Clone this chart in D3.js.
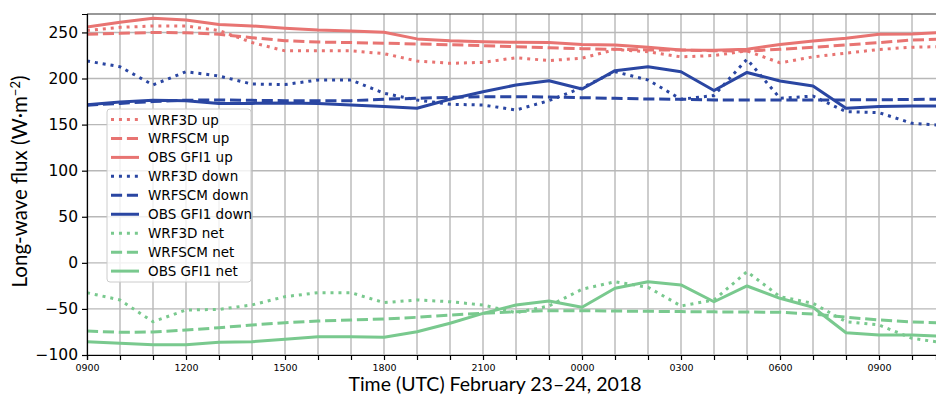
<!DOCTYPE html>
<html><head><meta charset="utf-8">
<script src="https://cdn.jsdelivr.net/npm/d3@7"></script>
<style>
html,body{margin:0;padding:0;background:#fff;}
svg{display:block;}
</style></head>
<body>
<svg id="chart" width="936" height="398"></svg>
<script>
// hours since 0900 UTC Feb 23 (0..26)
const hours = d3.range(0, 27);
const xTickHours = [0, 3, 6, 9, 12, 15, 18, 21, 24];
const xTickLabels = ["0900","1200","1500","1800","2100","0000","0300","0600","0900"];
const yTicks = [-100, -50, 0, 50, 100, 150, 200, 250];

const wrf3dUp   = [252,255.5,257,257,252,239,230,230,230,227,219,216.5,217.5,222.5,219.5,222,231.5,229,223.5,225,230,217,223.5,227.5,231.5,234,234.7];
const wrfscmUp  = [248,249,250,249.7,248,244.3,241,239.6,239,238.3,237.5,236.7,235.6,234.5,233.4,232.4,231.7,231,231,230.2,229.8,231.7,233.9,236.4,239,241.8,242.8];
const obsUp     = [256,261,265.5,263.5,258.5,257,254.5,252.6,251.6,250.2,243,241,240,239.3,239,237,236.4,234,231,230.6,231.7,237,240.7,243.6,248,248.3,250.2];

const wrf3dDown  = [219,212.8,193,207.4,202.7,194,193.5,198.4,198.4,184,176.7,172,171.3,165.8,176,190,207.4,198.4,177.5,181.5,221,178.5,181,164,163,151.4,149];
const wrfscmDown = [171,173,175,176.5,176.7,176.3,176,176,176,177.5,178.5,179.6,180.3,180.3,180,179.2,178.5,177.8,177.5,176.7,176.7,176.7,176.7,176.8,177,177.2,177.7];
const obsDown    = [171.5,174.5,176.5,176,173,173,173.5,173,171.3,169.5,167.7,177.5,185.7,193,197.6,188.6,208.5,212.8,207.4,187,206.6,197.3,191.9,167.7,169.5,170.2,170];

const wrf3dNet  = [-32.4,-40.3,-63.9,-51.2,-50.5,-45.7,-36.7,-32.4,-32.4,-43.2,-40.3,-42.2,-45.7,-54.1,-46.8,-28.7,-20.5,-26.5,-46.8,-40.3,-9.6,-36.7,-43.9,-63.9,-67.4,-81.9,-87];
const wrfscmNet = [-74,-75.4,-75,-72.9,-70.4,-67.4,-65,-63.1,-62,-60.9,-59.1,-56.6,-54.8,-53,-51.9,-51.9,-52.3,-52.6,-52.9,-53.2,-53.4,-53.6,-55.5,-59,-62,-64.2,-65.3];
const obsNet    = [-85.6,-87.3,-89,-89,-86.2,-85.6,-83,-80.2,-80.2,-80.8,-74.7,-65.6,-54.8,-45.7,-41.4,-48.2,-27.6,-20.5,-24,-42.2,-25.1,-38.5,-48.2,-75.8,-78.3,-78.3,-79.8];

const seriesNames = ["WRF3D up","WRFSCM up","OBS GFI1 up","WRF3D down","WRFSCM down","OBS GFI1 down","WRF3D net","WRFSCM net","OBS GFI1 net"];
const seriesValues = [wrf3dUp, wrfscmUp, obsUp, wrf3dDown, wrfscmDown, obsDown, wrf3dNet, wrfscmNet, obsNet];

const RED = "#e87472", BLUE = "#2a46a2", GREEN = "#79c98e";
const colors = [RED, RED, RED, BLUE, BLUE, BLUE, GREEN, GREEN, GREEN];
const LW = 3;
const dashes = ["3,4.95", "11.1,4.8", null];

const svg = d3.select("#chart");
const L = 87, R = 936, T = 14, B = 355;
const x = d3.scaleLinear().domain([0, 25.727]).range([L, R]);
const y = d3.scaleLinear().domain([-100, 270]).range([B, T]);

svg.append("defs").append("clipPath").attr("id","clip")
  .append("rect").attr("x", L).attr("y", T).attr("width", R - L).attr("height", B - T);

// grid
const grid = svg.append("g");
grid.selectAll("line.v").data(d3.range(0, 26)).join("line")
  .attr("x1", d => x(d)).attr("x2", d => x(d)).attr("y1", T).attr("y2", B)
  .attr("stroke", "#b8b8b8").attr("stroke-width", 1.4);
grid.selectAll("line.h").data(yTicks).join("line")
  .attr("x1", L).attr("x2", R).attr("y1", d => y(d)).attr("y2", d => y(d))
  .attr("stroke", "#b8b8b8").attr("stroke-width", 1.4);

// lines
const line = d3.line().x((d, i) => x(hours[i])).y(d => y(d));
const lg = svg.append("g").attr("clip-path", "url(#clip)");
seriesValues.forEach((vals, k) => {
  lg.append("path").datum(vals)
    .attr("d", line)
    .attr("fill", "none")
    .attr("stroke", colors[k])
    .attr("stroke-width", LW)
    .attr("stroke-linejoin", "round")
    .attr("stroke-dasharray", dashes[k % 3]);
});

// spines
svg.append("line").attr("x1", L).attr("x2", R).attr("y1", T).attr("y2", T).attr("stroke", "#333").attr("stroke-width", 1.2);
// axes
const yAxis = d3.axisLeft(y).tickValues(yTicks).tickSize(5).tickPadding(4)
  .tickFormat(d => d < 0 ? "\u2212" + Math.abs(d) : d);
const gy = svg.append("g").attr("transform", `translate(${L},0)`).call(yAxis);
gy.select(".domain").attr("stroke", "#000").attr("stroke-width", 1.2);
gy.selectAll(".tick line").attr("stroke", "#000").attr("stroke-width", 1.2);
gy.selectAll(".tick text").attr("font-family", "DejaVu Sans").attr("font-size", 15.5).attr("fill", "#000");

const xAxis = d3.axisBottom(x).tickValues(d3.range(0, 26)).tickSize(5).tickPadding(4)
  .tickFormat(d => { const i = xTickHours.indexOf(d); return i >= 0 ? xTickLabels[i] : ""; });
const gx = svg.append("g").attr("transform", `translate(0,${B})`).call(xAxis);
gx.select(".domain").attr("stroke", "#000").attr("stroke-width", 1.2);
gx.selectAll(".tick line").attr("stroke", "#000").attr("stroke-width", 1.2);
gx.selectAll(".tick text").attr("font-family", "DejaVu Sans").attr("font-size", 9.5).attr("fill", "#000");

// axis labels
svg.append("text").attr("x", 495).attr("y", 391).attr("text-anchor", "middle")
  .attr("font-family", "Lato").attr("font-size", 19.5).attr("fill", "#000")
  .text("Time (UTC) February 23\u201324, 2018");
const yl = svg.append("text").attr("transform", "translate(27,181.5) rotate(-90)").attr("text-anchor", "middle")
  .attr("font-family", "Lato").attr("font-size", 20.5).attr("fill", "#000");
yl.append("tspan").text("Long-wave flux (W\u00b7m");
yl.append("tspan").attr("dy", -7).attr("font-size", 13).text("\u22122");
yl.append("tspan").attr("dy", 7).text(")");

// legend
const legX = 107, legY = 109, legW = 144, legH = 173, rowH = 18.95;
const leg = svg.append("g");
leg.append("rect").attr("x", legX).attr("y", legY).attr("width", legW).attr("height", legH)
  .attr("rx", 3).attr("fill", "#fff").attr("fill-opacity", 0.8).attr("stroke", "#cccccc").attr("stroke-width", 1);
seriesNames.forEach((name, k) => {
  const cy = legY + 10.5 + k * rowH;
  leg.append("line").attr("x1", legX + 4).attr("x2", legX + 32).attr("y1", cy).attr("y2", cy)
    .attr("stroke", colors[k]).attr("stroke-width", LW).attr("stroke-dasharray", dashes[k % 3]);
  leg.append("text").attr("x", legX + 41).attr("y", cy + 5).attr("font-family", "DejaVu Sans")
    .attr("font-size", 13.5).attr("fill", "#000").text(name);
});
</script>
</body></html>
